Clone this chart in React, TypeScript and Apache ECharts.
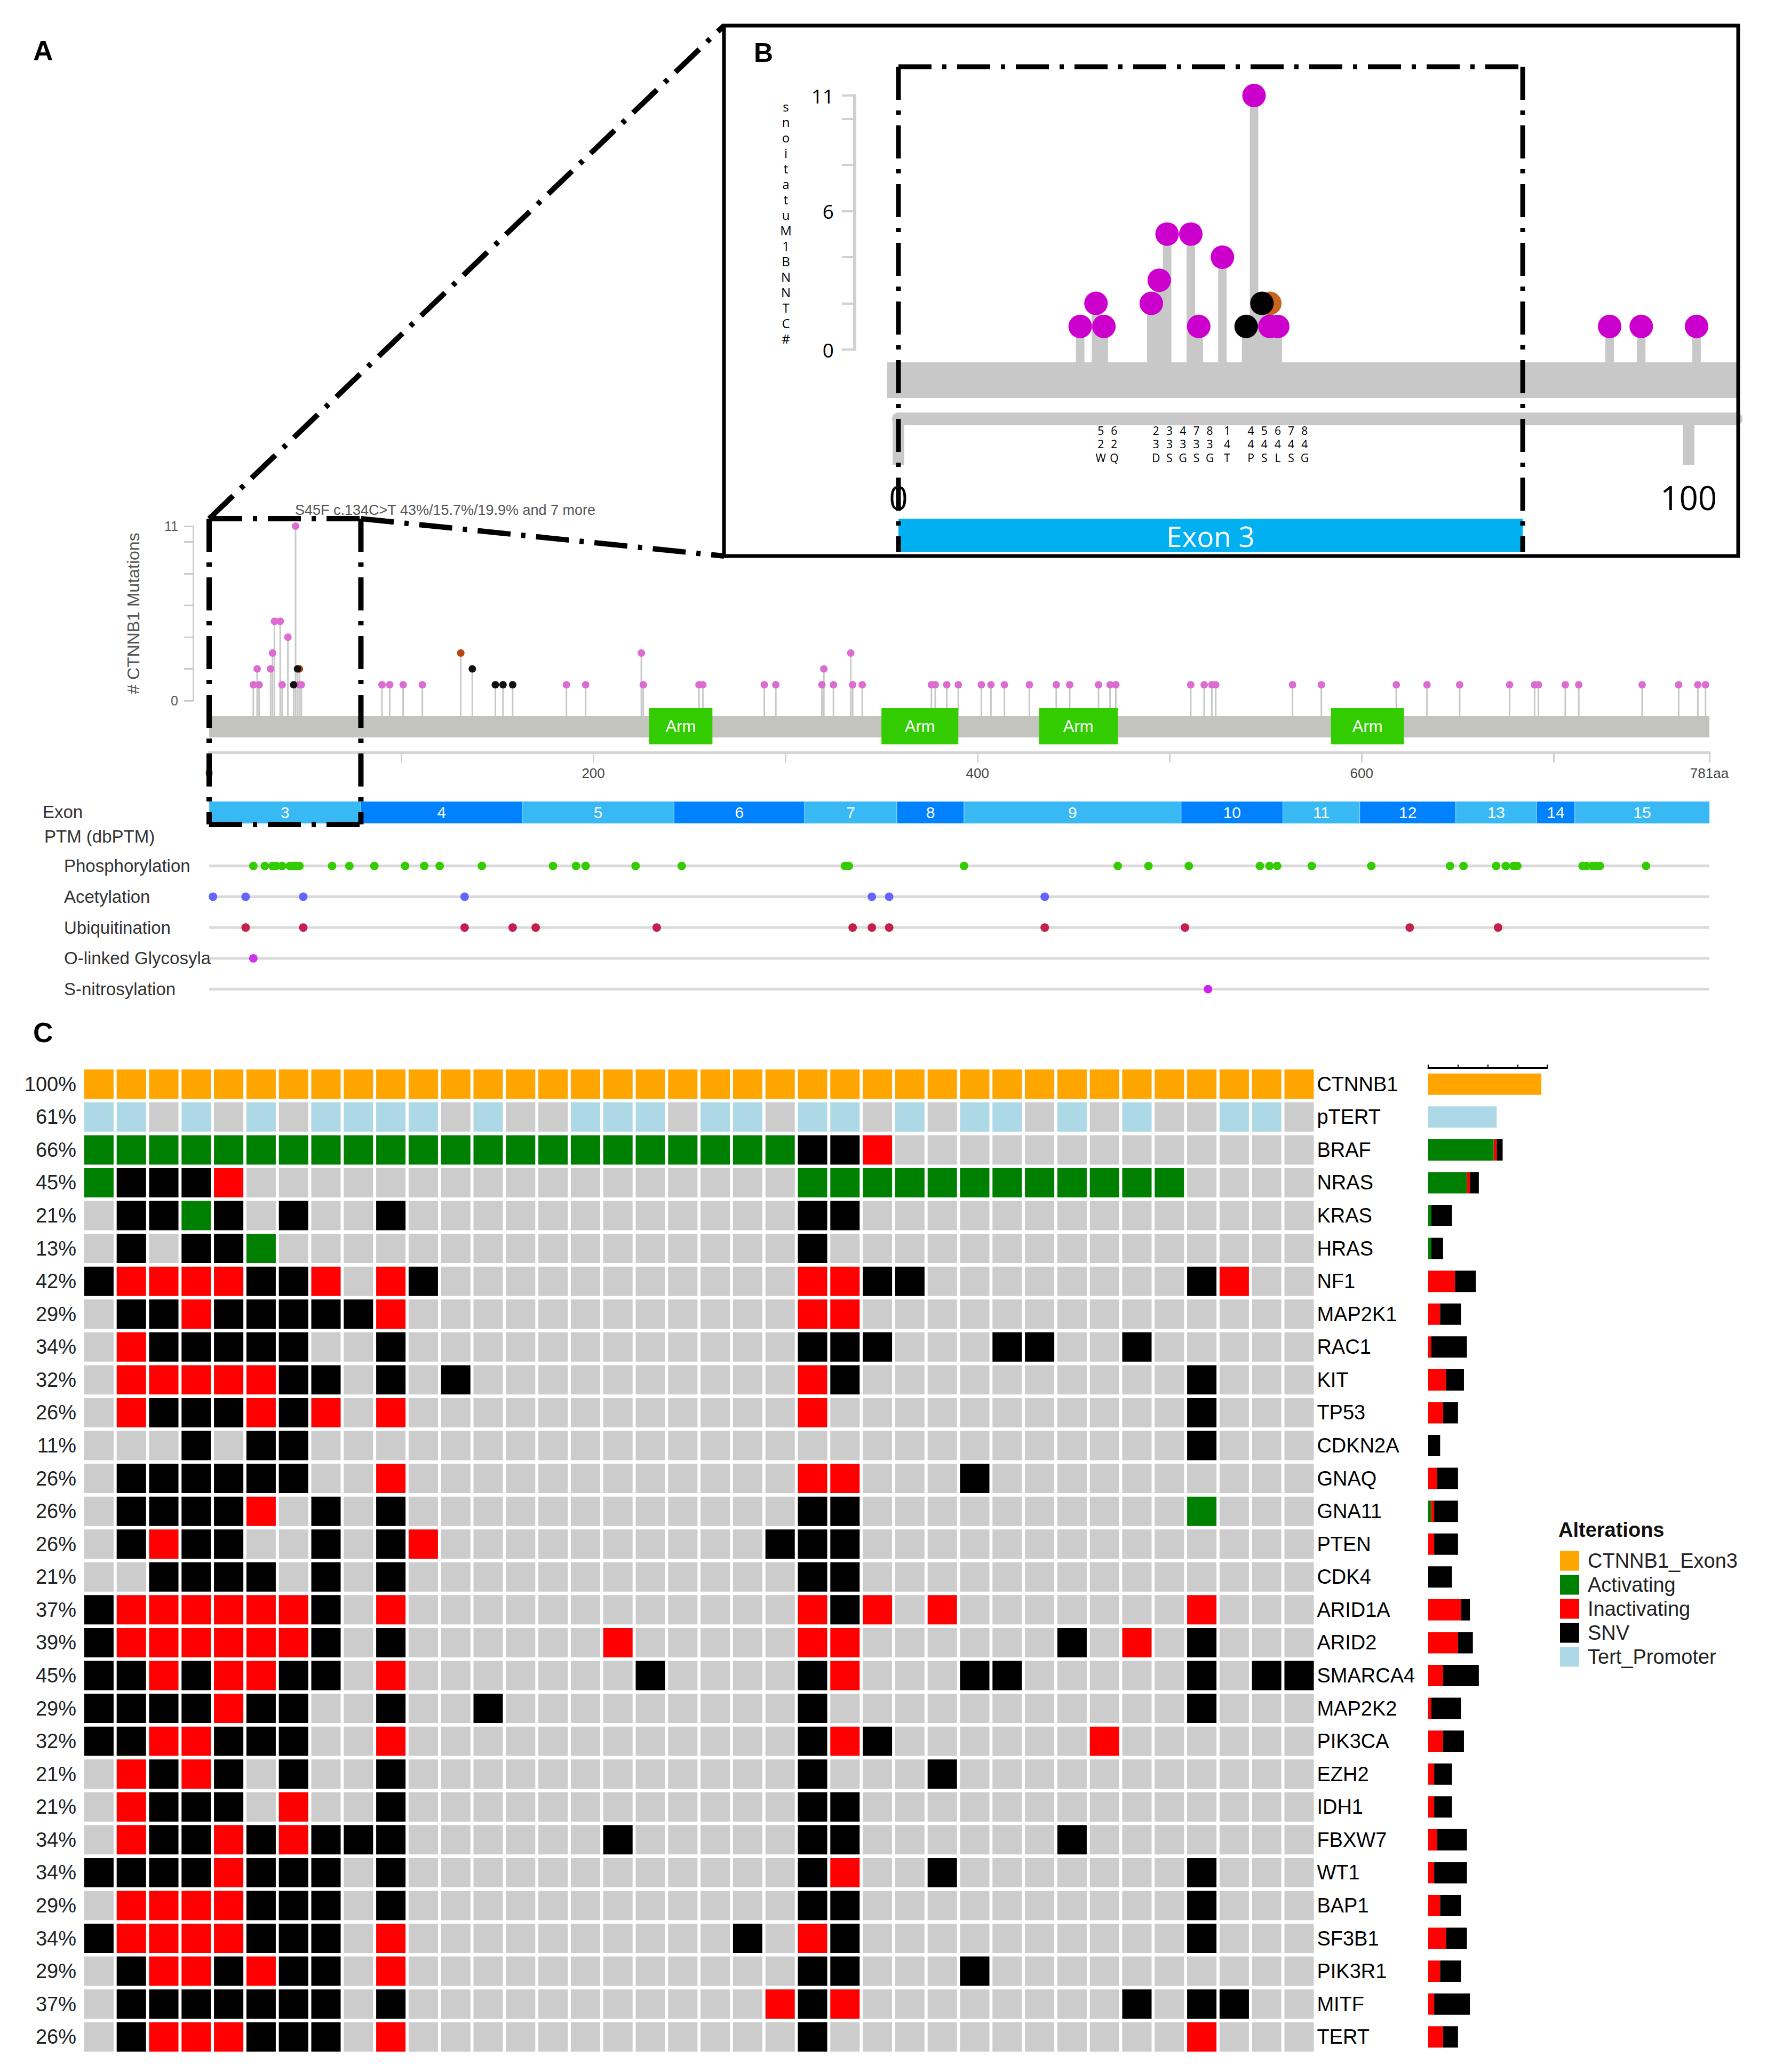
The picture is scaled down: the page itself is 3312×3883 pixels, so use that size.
import React, { useEffect, useRef } from 'react';
import * as echarts from 'echarts';

const FONT = '"Liberation Sans", Arial, Helvetica, sans-serif';
const FONT_B = '"Open Sans", "Liberation Sans", Arial, sans-serif';

/* ---------------- Panels A & B : CTNNB1 mutations ---------------- */
const PROTEIN_LENGTH = 781;

const mutPositions = [
  23, 25, 26, 32, 33, 34, 37, 38, 41, 44, 45, 46, 47, 47, 48,
  90, 94, 101, 111, 131, 137, 149, 153, 158, 186, 196, 225, 226, 255, 257,
  289, 295, 319, 320, 325, 334, 335, 340, 376, 378, 384, 390, 402, 407, 414,
  427, 441, 448, 463, 469, 472, 511, 518, 522, 524, 564, 579, 618, 634, 651,
  677, 690, 692, 706, 713, 746, 765, 775, 779,
];
const mutCounts = [
  1, 2, 1, 2, 3, 5, 5, 1, 4, 1, 11, 2, 2, 1, 1,
  1, 1, 1, 1, 3, 2, 1, 1, 1, 1, 1, 3, 1, 1, 1,
  1, 1, 1, 2, 1, 3, 1, 1, 1, 1, 1, 1, 1, 1, 1,
  1, 1, 1, 1, 1, 1, 1, 1, 1, 1, 1, 1, 1, 1, 1,
  1, 1, 1, 1, 1, 1, 1, 1, 1,
];
// P = pink head, K = black head, O = orange head
const mutClassCodes = 'PPPPPPPPPKPKOPP PPPPOKKKKPPPPPP PPPPPPPPPPPPPPP PPPPPPPPPPPPPPP PPPPPPPPP'.replace(/ /g, '');
const topMutationLabel = 'S45F c.134C>T 43%/15.7%/19.9% and 7 more';
const zoomResidueLabels = ['W25', 'Q26', 'D32', 'S33', 'G34', 'S37', 'G38', 'T41', 'P44', 'S45', 'L46', 'S47', 'G48'];
const yTitle = '# CTNNB1 Mutations';

const lolliTickValues = [0, 2, 4, 6, 8, 10, 11];
const lolliLabelValuesA = [0, 11];
const lolliLabelValuesB = [0, 6, 11];
const proteinTickValues = [0, 100, 200, 300, 400, 500, 600, 700, 781];
const proteinLabelValues = [0, 200, 400, 600, 781];
const zoomAxisValues = [0, 100];

const armStarts = [229, 350, 432, 584];
const armEnds = [262, 390, 473, 622];

const exonLabels = ['3', '4', '5', '6', '7', '8', '9', '10', '11', '12', '13', '14', '15'];
const exonStarts = [0, 79, 163, 242, 310, 358, 393, 506, 559, 599, 649, 691, 711];
const exonEnds = [79, 163, 242, 310, 358, 393, 506, 559, 599, 649, 691, 711, 781];

const ptmTypes = ['Phosphorylation', 'Acetylation', 'Ubiquitination', 'O-linked Glycosylation', 'S-nitrosylation'];
const phosphorylationSites = [23, 29, 33, 35, 38, 42, 44, 45, 47, 64, 73, 86, 102, 112, 120, 142, 179, 191, 196, 222, 246, 331, 333, 393, 473, 489, 510, 547, 552, 556, 574, 605, 646, 653, 670, 675, 679, 681, 715, 717, 720, 722, 724, 748];
const acetylationSites = [2, 19, 49, 133, 345, 354, 435];
const ubiquitinationSites = [19, 49, 133, 158, 170, 233, 335, 345, 354, 435, 508, 625, 671];
const oGlycosylationSites = [23];
const sNitrosylationSites = [520];

/* ---------------- Panel C : oncoprint ---------------- */
const genes = ['CTNNB1', 'pTERT', 'BRAF', 'NRAS', 'KRAS', 'HRAS', 'NF1', 'MAP2K1', 'RAC1', 'KIT', 'TP53', 'CDKN2A', 'GNAQ', 'GNA11', 'PTEN', 'CDK4', 'ARID1A', 'ARID2', 'SMARCA4', 'MAP2K2', 'PIK3CA', 'EZH2', 'IDH1', 'FBXW7', 'WT1', 'BAP1', 'SF3B1', 'PIK3R1', 'MITF', 'TERT'];
const pctLabels = ['100%', '61%', '66%', '45%', '21%', '13%', '42%', '29%', '34%', '32%', '26%', '11%', '26%', '26%', '26%', '21%', '37%', '39%', '45%', '29%', '32%', '21%', '21%', '34%', '34%', '29%', '34%', '29%', '37%', '26%'];
// O = CTNNB1_Exon3, T = Tert_Promoter, A = Activating, I = Inactivating, S = SNV, . = none
const alterationRows = [
  'OOOOOOOOOO OOOOOOOOOO OOOOOOOOOO OOOOOOOO',
  'TT.T.T.TTT T.T..TTT.T T.TT.T.TT. T.T..TT.',
  'AAAAAAAAAA AAAAAAAAAA AASSI..... ........',
  'ASSSI..... .......... ..AAAAAAAA AAAA....',
  '.SSAS.S..S .......... ..SS...... ........',
  '.S.SSA.... .......... ..S....... ........',
  'SIIIISSI.I S......... ..IISS.... ....SI..',
  '.SSISSSSSI .......... ..II...... ........',
  '.ISSSSS..S .......... ..SSS...SS ..S.....',
  '.IIIIISS.S .S........ ..IS...... ....S...',
  '.ISSSISI.I .......... ..I....... ....S...',
  '...S.SS... .......... .......... ....S...',
  '.SSSSSS..I .......... ..II...S.. ........',
  '.SSSSI.S.S .......... ..SS...... ....A...',
  '.SISS..S.S I......... .SSS...... ........',
  '..SSSS.S.S .......... ..SS...... ........',
  'SIIIIIIS.I .......... ..ISI.I... ....I...',
  'SIIIIIIS.S ......I... ..II...... S.I.S...',
  'SSISIISS.I .......S.. ..SI...SS. ....S.SS',
  'SSSSISS..S ..S....... ..S....... ....S...',
  'SSIISSS..I .......... ..SIS..... .I......',
  '.ISIS.S..S .......... ..S...S... ........',
  '.ISSS.I..S .......... ..SS...... ........',
  '.ISSISISSS ......S... ..SS...... S.......',
  'SSSSISSS.S .......... ..SI..S... ....S...',
  '.IIIISSS.S .......... ..SS...... ....S...',
  'SIIIISSS.I .......... S.IS...... ....S...',
  '.SIISISS.I .......... ..SS...S.. ........',
  '.SSSSSSS.S .......... .ISI...... ..S.SS..',
  '.SIIISSS.I .......... ..S....... ....I...',
].map((r) => r.replace(/ /g, ''));
const alterationCodes = ['O', 'T', 'A', 'I', 'S'];
const alterationNames = ['CTNNB1_Exon3', 'Tert_Promoter', 'Activating', 'Inactivating', 'SNV'];
const legendOrder = ['CTNNB1_Exon3', 'Activating', 'Inactivating', 'SNV', 'Tert_Promoter'];
const barAxisMax = 40;

/* ---------------- styles ---------------- */
const ALT_COLORS: any = { O: '#FFA500', T: '#ADD8E6', A: '#008000', I: '#FF0000', S: '#000000' };
const NONE_COLOR = '#cccccc';
const A_HEAD: any = { P: '#dc6bd2', K: '#111111', O: '#b5460f' };
const B_HEAD: any = { P: '#cc00cc', K: '#000000', O: '#c8641e' };
const PTM_COLORS = ['#33cc00', '#6464ff', '#c2214c', '#cc33ee', '#cc22ee'];
const DASH = [62, 20, 8, 20];

function buildOption() {
  const B_MAX = 106;
  const peak = mutCounts.indexOf(Math.max(...mutCounts));
  const muts = mutPositions.map((p, i) => ({ p, c: mutCounts[i], k: mutClassCodes[i], i }));

  const grid = [
    { left: 392, top: 986, width: 2812, height: 327 },
    { left: 392, top: 1322, width: 2812, height: 88 },
    { left: 392, top: 1502, width: 2812, height: 41 },
    { left: 392, top: 1594, width: 2812, height: 288.5 },
    { left: 1684, top: 179, width: 1570, height: 476 },
    { left: 155, top: 2001, width: 2310.4, height: 1847 },
    { left: 2677, top: 2001, width: 223.2, height: 1847 },
  ].map((g) => ({ ...g, containLabel: false, outerBoundsMode: 'none' }));

  const hiddenX = (gi: number, max: number) => ({ type: 'value', gridIndex: gi, min: 0, max, show: false });
  const xAxis: any[] = [
    hiddenX(0, PROTEIN_LENGTH),
    {
      type: 'value', gridIndex: 1, min: 0, max: PROTEIN_LENGTH, position: 'bottom',
      axisLine: { show: true, onZero: false, lineStyle: { color: '#d5d5d5', width: 5 } },
      axisTick: { show: true, customValues: proteinTickValues, length: 19, lineStyle: { color: '#cfcfcf', width: 3 } },
      axisLabel: { show: true, customValues: proteinLabelValues, formatter: (v: number) => (v === PROTEIN_LENGTH ? v + 'aa' : String(v)), fontSize: 26, color: '#444', margin: 26, fontFamily: FONT },
      splitLine: { show: false },
    },
    hiddenX(2, PROTEIN_LENGTH),
    hiddenX(3, PROTEIN_LENGTH),
    {
      type: 'value', gridIndex: 4, min: 0, max: B_MAX, position: 'bottom', offset: 130,
      axisLine: { show: true, onZero: false, lineStyle: { color: '#c8c8c8', width: 24 } },
      axisTick: { show: true, customValues: zoomAxisValues, length: 86, lineStyle: { color: '#c8c8c8', width: 22 } },
      axisLabel: { show: true, customValues: zoomAxisValues, fontSize: 62, color: '#000', margin: 116, fontFamily: FONT_B },
      splitLine: { show: false },
    },
    { type: 'category', gridIndex: 5, data: alterationRows[0].split('').map((_, i) => 'S' + (i + 1)), show: false },
    {
      type: 'value', gridIndex: 6, min: 0, max: barAxisMax, interval: 10, position: 'top',
      axisLine: { show: true, onZero: false, lineStyle: { color: '#000', width: 3 } },
      axisTick: { show: true, length: 6, lineStyle: { color: '#000', width: 2 } },
      axisLabel: { show: false }, splitLine: { show: false },
    },
  ];

  const bTitle = yTitle.split('').reverse().filter((ch) => ch !== ' ').join('\n');
  const yAxis: any[] = [
    {
      type: 'value', gridIndex: 0, min: 0, max: 11, offset: 30,
      name: yTitle, nameLocation: 'middle', nameGap: 112, nameRotate: 90,
      nameTextStyle: { fontSize: 32, color: '#555', fontFamily: FONT, align: 'center', verticalAlign: 'middle' },
      axisLine: { show: true, onZero: false, lineStyle: { color: '#cccccc', width: 3 } },
      axisTick: { show: true, customValues: lolliTickValues, length: 17, lineStyle: { color: '#cccccc', width: 3 } },
      axisLabel: { show: true, customValues: lolliLabelValuesA, fontSize: 25, color: '#555', margin: 28, fontFamily: FONT },
      splitLine: { show: false },
    },
    { type: 'value', gridIndex: 1, min: 0, max: 88, show: false },
    { type: 'value', gridIndex: 2, min: 0, max: 1, show: false },
    {
      type: 'category', gridIndex: 3, data: ptmTypes, inverse: true,
      axisLine: { show: false }, axisTick: { show: false },
      axisLabel: { interval: 0, align: 'left', margin: 272, fontSize: 33, color: '#333', width: 284, overflow: 'truncate', ellipsis: '', fontFamily: FONT },
    },
    {
      type: 'value', gridIndex: 4, min: 0, max: 11, offset: 82,
      name: bTitle, nameLocation: 'middle', nameGap: 129, nameRotate: 0,
      nameTextStyle: { fontSize: 24, lineHeight: 29, color: '#000', fontFamily: FONT_B, align: 'center', verticalAlign: 'middle' },
      axisLine: { show: true, onZero: false, lineStyle: { color: '#d0d0d0', width: 6 } },
      axisTick: { show: true, customValues: lolliTickValues, length: 24, lineStyle: { color: '#d0d0d0', width: 4 } },
      axisLabel: { show: true, customValues: lolliLabelValuesB, fontSize: 37, color: '#000', margin: 39, fontFamily: FONT_B },
      splitLine: { show: false },
    },
    {
      type: 'category', gridIndex: 5, data: genes, inverse: true, position: 'left',
      axisLine: { show: false }, axisTick: { show: false },
      axisLabel: { interval: 0, formatter: (_v: string, i: number) => pctLabels[i], fontSize: 38, color: '#222', margin: 12, fontFamily: FONT },
    },
    {
      type: 'category', gridIndex: 5, data: genes, inverse: true, position: 'right',
      axisLine: { show: false }, axisTick: { show: false },
      axisLabel: { interval: 0, fontSize: 38, color: '#000', margin: 3, fontFamily: FONT },
    },
    { type: 'category', gridIndex: 6, data: genes, inverse: true, show: false },
  ];

  const series: any[] = [];

  /* ---- Panel A lollipops ---- */
  series.push({
    type: 'custom', xAxisIndex: 0, yAxisIndex: 0, clip: false, silent: true, z: 2,
    data: muts.map((m) => [m.p, m.c]),
    renderItem: (_p: any, api: any) => {
      const top = api.coord([api.value(0), api.value(1)]);
      const base = api.coord([api.value(0), 0]);
      return { type: 'line', shape: { x1: top[0], y1: base[1] + 29, x2: top[0], y2: top[1] }, style: { stroke: '#c8c8c8', lineWidth: 3 } };
    },
  });
  ['O', 'P', 'K'].forEach((k, idx) => {
    series.push({
      type: 'scatter', xAxisIndex: 0, yAxisIndex: 0, symbol: 'circle', symbolSize: 14, z: 3 + idx, clip: false, silent: true,
      itemStyle: { color: A_HEAD[k], opacity: 1 },
      data: muts.filter((m) => m.k === k).map((m) =>
        m.i === peak
          ? { value: [m.p, m.c], label: { show: true, formatter: topMutationLabel, position: [6, -23], align: 'left', verticalAlign: 'middle', fontSize: 27, color: '#555', fontFamily: FONT } }
          : [m.p, m.c]),
    });
  });

  /* protein bar + Arm domains */
  series.push({
    type: 'custom', xAxisIndex: 1, yAxisIndex: 1, clip: false, silent: true, z: 2,
    data: [[0, PROTEIN_LENGTH]],
    renderItem: (params: any, api: any) => {
      const cs = params.coordSys;
      const x0 = api.coord([api.value(0), 0])[0];
      const x1 = api.coord([api.value(1), 0])[0];
      return { type: 'rect', shape: { x: x0, y: cs.y + 20, width: x1 - x0, height: 40 }, style: { fill: '#c2c4bd' } };
    },
  });
  series.push({
    type: 'custom', xAxisIndex: 1, yAxisIndex: 1, clip: false, silent: true, z: 3,
    data: armStarts.map((s, i) => [s, armEnds[i]]),
    renderItem: (params: any, api: any) => {
      const cs = params.coordSys;
      const x0 = api.coord([api.value(0), 0])[0];
      const x1 = api.coord([api.value(1), 0])[0];
      return {
        type: 'group', children: [
          { type: 'rect', shape: { x: x0, y: cs.y + 5, width: x1 - x0, height: 68 }, style: { fill: '#33cc00' } },
          { type: 'text', x: (x0 + x1) / 2, y: cs.y + 39, style: { text: 'Arm', fill: '#fff', fontSize: 31, fontFamily: FONT, align: 'center', verticalAlign: 'middle', textAlign: 'center', textVerticalAlign: 'middle' } },
        ],
      };
    },
  });

  /* exon bar */
  series.push({
    type: 'custom', xAxisIndex: 2, yAxisIndex: 2, clip: false, silent: true, z: 2,
    data: exonStarts.map((s, i) => [s, exonEnds[i]]),
    renderItem: (params: any, api: any) => {
      const cs = params.coordSys;
      const i = params.dataIndex;
      const x0 = api.coord([api.value(0), 0])[0];
      const x1 = api.coord([api.value(1), 0])[0];
      return {
        type: 'group', children: [
          { type: 'rect', shape: { x: x0, y: cs.y, width: x1 - x0, height: cs.height }, style: { fill: i % 2 === 0 ? '#38b9f3' : '#0082ff', stroke: '#9fd6f5', lineWidth: 1 } },
          { type: 'text', x: (x0 + x1) / 2, y: cs.y + cs.height / 2, style: { text: exonLabels[i], fill: '#fff', fontSize: 30, fontFamily: FONT, align: 'center', verticalAlign: 'middle', textAlign: 'center', textVerticalAlign: 'middle' } },
        ],
      };
    },
  });

  /* PTM tracks */
  series.push({
    type: 'custom', xAxisIndex: 3, yAxisIndex: 3, clip: false, silent: true, z: 1,
    data: ptmTypes.map((_, i) => [PROTEIN_LENGTH, i]),
    renderItem: (_params: any, api: any) => {
      const y = api.value(1);
      const a = api.coord([0, y]);
      const b = api.coord([api.value(0), y]);
      return { type: 'line', shape: { x1: a[0], y1: a[1], x2: b[0], y2: b[1] }, style: { stroke: '#dadada', lineWidth: 5 } };
    },
  });
  [phosphorylationSites, acetylationSites, ubiquitinationSites, oGlycosylationSites, sNitrosylationSites].forEach((sites, i) => {
    series.push({
      type: 'scatter', xAxisIndex: 3, yAxisIndex: 3, symbol: 'circle', symbolSize: 16, z: 3, clip: false, silent: true,
      itemStyle: { color: PTM_COLORS[i], opacity: 1 },
      data: sites.map((s) => [s, i]),
    });
  });

  /* dash-dot box around exon 3 in A + connectors to panel B */
  series.push({
    type: 'custom', xAxisIndex: 0, yAxisIndex: 0, clip: false, silent: true, z: 20,
    data: [[exonStarts[0], exonEnds[0]]],
    renderItem: (_params: any, api: any) => {
      const x0 = api.coord([api.value(0), 0])[0];
      const x1 = api.coord([api.value(1), 0])[0];
      const yT = 972, yB = 1545;
      const st = { stroke: '#000', lineWidth: 10, lineDash: DASH, fill: null };
      const ln = (a: number, b: number, c: number, d: number) => ({ type: 'line', shape: { x1: a, y1: b, x2: c, y2: d }, style: st });
      return {
        type: 'group', children: [
          ln(x0, yT, x1, yT), ln(x0, yT, x0, yB), ln(x1, yT, x1, yB), ln(x0, yB, x1, yB),
          ln(x0, yT, 1357, 48), ln(x1, yT, 1357, 1042),
        ],
      };
    },
  });

  /* ---- Panel B (zoom on exon 3) ---- */
  const bMuts = muts.filter((m) => m.p <= B_MAX);
  series.push({
    type: 'custom', xAxisIndex: 4, yAxisIndex: 4, clip: false, silent: true, z: 1,
    data: [[0, PROTEIN_LENGTH]],
    renderItem: (params: any, api: any) => {
      const cs = params.coordSys;
      const base = api.coord([0, 0]);
      const x0 = base[0] - 21;
      const x1 = Math.min(api.coord([api.value(1), 0])[0], cs.x + cs.width + 3);
      return { type: 'rect', shape: { x: x0, y: base[1] + 24, width: x1 - x0, height: 67 }, style: { fill: '#c8c8c8' } };
    },
  });
  series.push({
    type: 'custom', xAxisIndex: 4, yAxisIndex: 4, clip: false, silent: true, z: 2,
    data: bMuts.map((m) => [m.p, m.c]),
    renderItem: (_params: any, api: any) => {
      const top = api.coord([api.value(0), api.value(1)]);
      const base = api.coord([api.value(0), 0]);
      return { type: 'rect', shape: { x: top[0] - 8, y: top[1], width: 16, height: base[1] + 24 - top[1] }, style: { fill: '#c8c8c8' } };
    },
  });
  ['O', 'K', 'P'].forEach((k, idx) => {
    series.push({
      type: 'scatter', xAxisIndex: 4, yAxisIndex: 4, symbol: 'circle', symbolSize: 44, z: 3 + idx, clip: false, silent: true,
      itemStyle: { color: B_HEAD[k], opacity: 1 },
      data: bMuts.filter((m) => m.k === k).map((m) => [m.p, m.c]),
    });
  });
  const labelAA: number[] = [];
  zoomResidueLabels.forEach((lab, i) => {
    const r = parseInt(lab.slice(1), 10) + 0.6;
    labelAA.push(i === 0 ? r : Math.max(r, labelAA[i - 1] + 1.7));
  });
  series.push({
    type: 'custom', xAxisIndex: 4, yAxisIndex: 4, clip: false, silent: true, z: 5,
    data: labelAA.map((x) => [x, 0]),
    renderItem: (params: any, api: any) => {
      const p = api.coord([api.value(0), 0]);
      const txt = zoomResidueLabels[params.dataIndex].split('').reverse().join('\n');
      return { type: 'text', x: p[0], y: p[1] + 177, style: { text: txt, fill: '#000', fontSize: 21, lineHeight: 25.5, fontFamily: FONT_B, align: 'center', verticalAlign: 'middle', textAlign: 'center', textVerticalAlign: 'middle' } };
    },
  });
  series.push({
    type: 'custom', xAxisIndex: 4, yAxisIndex: 4, clip: false, silent: true, z: 20,
    data: [[exonStarts[0], exonEnds[0]]],
    renderItem: (_params: any, api: any) => {
      const x0 = api.coord([api.value(0), 0])[0];
      const x1 = api.coord([api.value(1), 0])[0];
      const st = { stroke: '#000', lineWidth: 9, lineDash: DASH, fill: null };
      const ln = (a: number, b: number, c: number, d: number) => ({ type: 'line', shape: { x1: a, y1: b, x2: c, y2: d }, style: st });
      return {
        type: 'group', children: [
          { type: 'rect', shape: { x: x0, y: 972, width: x1 - x0, height: 62 }, style: { fill: '#00b0f0' } },
          { type: 'text', x: (x0 + x1) / 2, y: 1004, style: { text: 'Exon ' + exonLabels[0], fill: '#fff', fontSize: 53, fontFamily: FONT_B, align: 'center', verticalAlign: 'middle', textAlign: 'center', textVerticalAlign: 'middle' } },
          ln(x0, 125, x1, 125), ln(x0, 125, x0, 1034), ln(x1, 125, x1, 1034),
        ],
      };
    },
  });

  /* ---- Panel C oncoprint ---- */
  const cells: number[][] = [];
  const cellColors: string[] = [];
  alterationRows.forEach((row, r) => {
    row.split('').forEach((code, c) => {
      cells.push([c, r]);
      cellColors.push(ALT_COLORS[code] || NONE_COLOR);
    });
  });
  series.push({
    type: 'custom', xAxisIndex: 5, yAxisIndex: 5, silent: true, z: 2,
    data: cells,
    renderItem: (params: any, api: any) => {
      const p = api.coord([api.value(0), api.value(1)]);
      const s = api.size([1, 1]);
      const w = s[0] * 0.905, h = s[1] * 0.893;
      return { type: 'rect', shape: { x: p[0] - w / 2, y: p[1] - h / 2, width: w, height: h }, style: { fill: cellColors[params.dataIndex] } };
    },
  });
  alterationCodes.forEach((code, k) => {
    series.push({
      type: 'bar', name: alterationNames[k], stack: 'total', xAxisIndex: 6, yAxisIndex: 7, barWidth: 40, silent: true,
      itemStyle: { color: ALT_COLORS[code] },
      data: alterationRows.map((row) => row.split('').filter((ch) => ch === code).length),
    });
  });

  const txt = (text: string, x: number, y: number, size: number, extra: any = {}) => ({
    type: 'text', x, y, z: 50,
    style: { text, fontSize: size, fontFamily: FONT, fill: '#000', align: 'left', verticalAlign: 'middle', textAlign: 'left', textVerticalAlign: 'middle', ...extra },
  });

  return {
    animation: false,
    backgroundColor: '#ffffff',
    textStyle: { fontFamily: FONT },
    grid, xAxis, yAxis, series,
    legend: {
      data: legendOrder, orient: 'vertical', left: 2924, top: 2906, itemWidth: 36, itemHeight: 37, itemGap: 7,
      icon: 'rect', selectedMode: false, padding: 0,
      textStyle: { fontSize: 38, color: '#222', fontFamily: FONT, lineHeight: 37, padding: [0, 0, 0, 11] },
    },
    graphic: [
      txt('A', 62, 95, 52, { fontWeight: 'bold' }),
      txt('B', 1413, 99, 50, { fontWeight: 'bold' }),
      txt('C', 62, 1935, 52, { fontWeight: 'bold' }),
      txt('Alterations', 2921, 2867, 38, { fontWeight: 'bold', fill: '#111' }),
      txt('Exon', 80, 1521, 33, { fill: '#333' }),
      txt('PTM (dbPTM)', 83, 1567, 33, { fill: '#333' }),
      { type: 'rect', z: 50, shape: { x: 1357, y: 48, width: 1901, height: 994 }, style: { fill: 'transparent', stroke: '#000', lineWidth: 7 } },
    ],
  };
}

export default function App() {
  const ref = useRef<HTMLDivElement>(null);
  useEffect(() => {
    const chart = echarts.init(ref.current as HTMLDivElement, undefined, { renderer: 'svg' });
    chart.setOption(buildOption() as any);
    return () => chart.dispose();
  }, []);
  return <div ref={ref} style={{ position: 'absolute', left: 0, top: 0, width: 3312, height: 3883, background: '#fff' }} />;
}
